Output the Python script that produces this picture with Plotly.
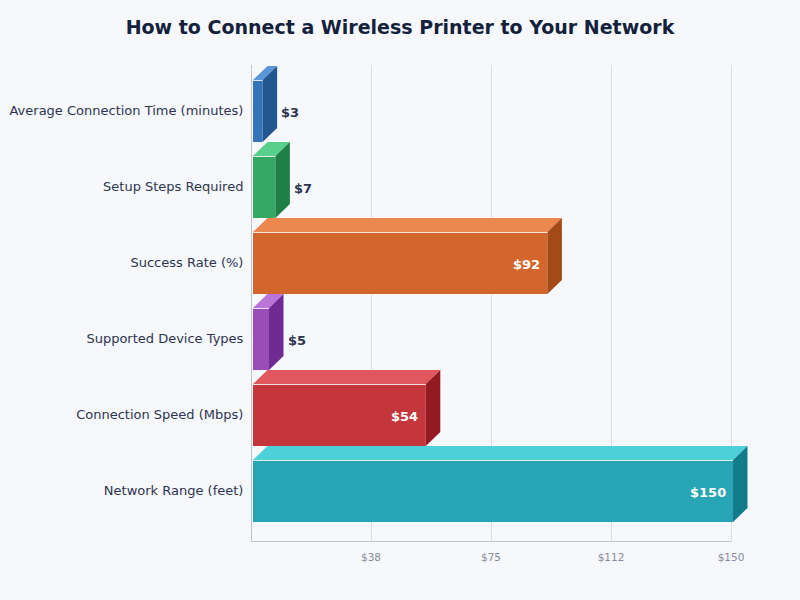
import plotly.graph_objects as go

categories = ["Average Connection Time (minutes)", "Setup Steps Required", "Success Rate (%)",
              "Supported Device Types", "Connection Speed (Mbps)", "Network Range (feet)"]
values = [3, 7, 92, 5, 54, 150]
tick_vals = [37.5, 75, 112.5, 150]
tick_text = ["$38", "$75", "$112", "$150"]

front_colors = ["#3574b9", "#35a866", "#d2662c", "#9a4db9", "#c5363c", "#27a5b4"]
top_colors = ["#5b97d8", "#58cf8b", "#ec874e", "#bb74d8", "#e0575d", "#4dd0da"]
side_colors = ["#22568f", "#1f7f46", "#a34a17", "#6f2b93", "#921a20", "#137c8a"]

# plot area in pixels, the 3d depth is converted to axis units with these
plot_w = 512
plot_h = 476
px_x = 150 / 480
px_y = 1 / 76
depth_x = 14.5 * px_x
depth_y = 14 * px_y
base = 2 * px_x
half_h = 31 * px_y
x_max = 160  # room on the right for the side faces, fills get clipped to the plot area

y_pos = list(range(len(categories)))

fig = go.Figure()

fig.add_trace(go.Bar(x=values, y=y_pos, base=base, orientation="h", width=2 * half_h,
                     marker=dict(color=front_colors, line=dict(width=0)),
                     cliponaxis=False, showlegend=False, hoverinfo="skip"))

for i, v in enumerate(values):
    x0 = base
    x1 = base + v
    top = i - half_h
    bot = i + half_h
    # top face
    fig.add_trace(go.Scatter(x=[x0, x0 + depth_x, x1 + depth_x, x1, x0],
                             y=[top, top - depth_y, top - depth_y, top, top],
                             mode="lines", fill="toself", fillcolor=top_colors[i],
                             line=dict(width=0), cliponaxis=False,
                             showlegend=False, hoverinfo="skip"))
    # side face
    fig.add_trace(go.Scatter(x=[x1, x1 + depth_x, x1 + depth_x, x1, x1],
                             y=[top, top - depth_y, bot - depth_y, bot, top],
                             mode="lines", fill="toself", fillcolor=side_colors[i],
                             line=dict(width=0), cliponaxis=False,
                             showlegend=False, hoverinfo="skip"))
    # highlight along the front top edge, half a pixel down so it stays crisp
    edge = top + 0.5 * px_y
    fig.add_trace(go.Scatter(x=[x0, x1], y=[edge, edge], mode="lines",
                             line=dict(color="rgba(255,255,255,0.85)", width=1),
                             cliponaxis=False, showlegend=False, hoverinfo="skip"))

    inside = v > 20
    fig.add_annotation(x=x1, y=i, text="$" + str(v), showarrow=False,
                       xanchor="right" if inside else "left",
                       xshift=-5.5 if inside else 16.5, yshift=-2,
                       font=dict(family="DejaVu Sans", size=13,
                                 color="#ffffff" if inside else "#2d3550", weight="bold"))

# axis lines as paper shapes: the x line stops at 150 while the plot area goes on
fig.add_shape(type="line", xref="paper", yref="paper", x0=0, x1=480.5 / plot_w,
              y0=-0.5 / plot_h, y1=-0.5 / plot_h, line=dict(color="#c0c4cc", width=1))
fig.add_shape(type="line", xref="paper", yref="paper", x0=0.5 / plot_w, x1=0.5 / plot_w,
              y0=0, y1=1, line=dict(color="#c0c4cc", width=1))

fig.update_layout(
    width=800, height=600,
    autosize=False,
    paper_bgcolor="#f6f8fc",
    plot_bgcolor="#f6f8fc",
    margin=dict(l=251, r=37, t=65, b=59, pad=0),
    title=dict(text="<b>How to Connect a Wireless Printer to Your Network</b>",
               x=0.5, xanchor="center", y=0.955, yanchor="middle",
               font=dict(family="DejaVu Sans", size=19, color="#14213d")),
    xaxis=dict(range=[0, x_max], tickmode="array", tickvals=tick_vals, ticktext=tick_text,
               automargin=False,
               showgrid=True, gridcolor="#dcdfe5", gridwidth=1, zeroline=False,
               showline=False, ticks="outside", ticklen=6, tickcolor="rgba(0,0,0,0)",
               tickfont=dict(family="DejaVu Sans", size=10.5, color="#868b9b")),
    yaxis=dict(range=[5.658, -0.605], tickmode="array", tickvals=y_pos, ticktext=categories,
               automargin=False, ticklabelshift=1,
               showgrid=False, zeroline=False, showline=False,
               ticks="outside", ticklen=4, tickcolor="rgba(0,0,0,0)",
               tickfont=dict(family="DejaVu Sans", size=13, color="#2d3550")),
)

fig.write_html("out.html", config=dict(displayModeBar=False),
               post_script="document.body.style.margin='0';document.body.style.background='#f6f8fc';")
